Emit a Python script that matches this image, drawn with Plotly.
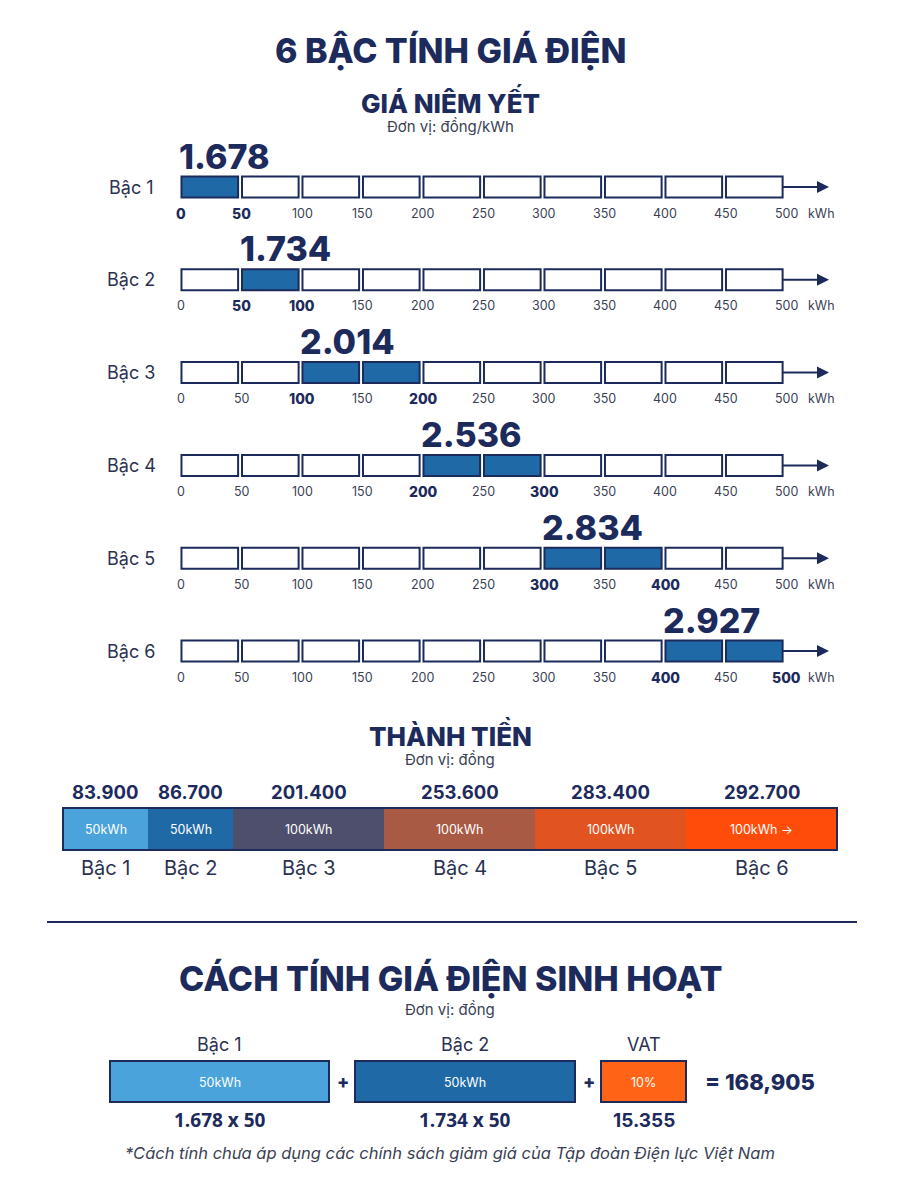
import plotly.graph_objects as go

# ---------------- data ----------------
tiers = ["Bậc 1", "Bậc 2", "Bậc 3", "Bậc 4", "Bậc 5", "Bậc 6"]
prices = [1678, 1734, 2014, 2536, 2834, 2927]          # đồng/kWh
tier_from = [0, 50, 100, 200, 300, 400]                 # kWh
tier_to = [50, 100, 200, 300, 400, 500]                 # kWh
kwh_ticks = [0, 50, 100, 150, 200, 250, 300, 350, 400, 450, 500]
amounts = [83900, 86700, 201400, 253600, 283400, 292700]  # đồng
seg_kwh = [50, 50, 100, 100, 100, 100]
seg_labels = ["50kWh", "50kWh", "100kWh", "100kWh", "100kWh", "100kWh →"]
example_tiers = ["Bậc 1", "Bậc 2"]
example_kwh = [50, 50]
example_prices = [1678, 1734]
vat_rate = 10
vat_amount = 15355
total = 168905

# ---------------- style ----------------
NAVY = "#1c2a5c"
TEXT = "#2b3150"
FILL = "#1f6aa6"
seg_colors = ["#4aa3da", "#1f6aa6", "#4e4f6c", "#a85a44", "#e1531f", "#ff4c0a"]
ex_colors = ["#4aa3da", "#1f6aa6"]
VAT_COLOR = "#ff6316"
FONT = "Inter"
W, H = 900, 1203
KMIN, KMAX = -10, 540
PX0, PXPER = 181, 605 / 500


def vn(n):
    return f"{n:,}".replace(",", ".")


fig = go.Figure()
shapes = []
ann = []


def text(x, y, s, size, color=TEXT, weight=400, xref="x", xanchor="center", italic=False,
         family=FONT, xshift=0):
    ann.append(dict(x=x, y=y, xref=xref, yref="y", text=s, showarrow=False,
                    xanchor=xanchor, yanchor="middle", xshift=xshift,
                    font=dict(family=family, size=size, color=color, weight=weight,
                              style="italic" if italic else "normal")))


# ---------------- headings ----------------
text(450, 50, "6 BẬC TÍNH GIÁ ĐIỆN", 34, NAVY, 800)
text(450, 101, "GIÁ NIÊM YẾT", 26, NAVY, 800)
text(450, 126, "Đơn vị: đồng/kWh", 15, "#3a3f55")

# ---------------- tier rows ----------------
row0, row_step = 187, 92.8
box_w = 47.2  # kWh width of each drawn box (gap between boxes)
for i, name in enumerate(tiers):
    yc = row0 + i * row_step
    text(131, yc, name, 18, TEXT)
    for k in kwh_ticks[:-1]:
        filled = tier_from[i] <= k < tier_to[i]
        shapes.append(dict(type="rect", xref="x2", yref="y",
                           x0=k + 0.4, x1=k + box_w, y0=yc - 10.5, y1=yc + 10.5,
                           fillcolor=FILL if filled else "white",
                           line=dict(color=NAVY, width=2)))
    # arrow
    shapes.append(dict(type="line", xref="x", yref="y", x0=783, x1=819, y0=yc, y1=yc,
                       line=dict(color=NAVY, width=2)))
    shapes.append(dict(type="path", xref="x", yref="y",
                       path=f"M 817 {yc-6} L 829 {yc} L 817 {yc+6} Z",
                       fillcolor=NAVY, line=dict(color=NAVY, width=0)))
    # tick labels
    for k in kwh_ticks:
        bold = k in (tier_from[i], tier_to[i])
        text(k, yc + 26, str(k), 14 if bold else 12.5, NAVY if bold else "#3a3f55",
             800 if bold else 400, xref="x2")
    text(821, yc + 26, "kWh", 12.5, "#3a3f55")
    # price label
    text(tier_from[i], yc - 31, vn(prices[i]), 34, NAVY, 800, xref="x2", xanchor="left",
         xshift=-4)

# ---------------- thành tiền ----------------
text(450, 734, "THÀNH TIỀN", 26, NAVY, 800)
text(450, 759, "Đơn vị: đồng", 15, "#3a3f55")
x = 63
bar_top, bar_bot = 808, 850
for i, k in enumerate(seg_kwh):
    w = 19 + 1.32 * k
    shapes.append(dict(type="rect", xref="x", yref="y", x0=x, x1=x + w, y0=bar_top, y1=bar_bot,
                       fillcolor=seg_colors[i], line=dict(width=0)))
    cx = x + w / 2
    text(cx, 829, seg_labels[i], 12.5, "white")
    text(cx, 792, vn(amounts[i]), 18.5, NAVY, 700)
    text(cx, 868, tiers[i], 20, TEXT)
    x += w
shapes.append(dict(type="rect", xref="x", yref="y", x0=63, x1=x, y0=bar_top, y1=bar_bot,
                   fillcolor="rgba(0,0,0,0)", line=dict(color=NAVY, width=2)))

# separator
shapes.append(dict(type="line", xref="x", yref="y", x0=47, x1=857, y0=922, y1=922,
                   line=dict(color=NAVY, width=2)))

# ---------------- cách tính ----------------
text(450, 978, "CÁCH TÍNH GIÁ ĐIỆN SINH HOẠT", 34, NAVY, 800)
text(450, 1009, "Đơn vị: đồng", 15, "#3a3f55")
box_top, box_bot = 1061, 1102
ex_x = [(110, 329), (355, 575)]
for i in range(len(example_tiers)):
    x0, x1 = ex_x[i]
    shapes.append(dict(type="rect", xref="x", yref="y", x0=x0, x1=x1, y0=box_top, y1=box_bot,
                       fillcolor=ex_colors[i], line=dict(color=NAVY, width=2)))
    cx = (x0 + x1) / 2
    text(cx, 1044, example_tiers[i], 18, TEXT)
    text(cx, 1082, f"{example_kwh[i]}kWh", 12.5, "white")
    text(cx, 1120, f"{vn(example_prices[i])} x {example_kwh[i]}", 19, NAVY, 700,
         family="Open Sans")
    text(x1 + 13.5, 1081, "+", 18, NAVY, 800)
shapes.append(dict(type="rect", xref="x", yref="y", x0=601, x1=686, y0=box_top, y1=box_bot,
                   fillcolor=VAT_COLOR, line=dict(color=NAVY, width=2)))
text(643.5, 1044, "VAT", 18, TEXT)
text(643.5, 1082, f"{vat_rate}%", 12.5, "white")
text(643.5, 1120, vn(vat_amount), 19, NAVY, 700)
text(703, 1082, f"= {total:,}", 22, NAVY, 800, xanchor="left")

text(450, 1153, "*Cách tính chưa áp dụng các chính sách giảm giá của Tập đoàn Điện lực Việt Nam",
     16.5, "#3a3f55", italic=True)

# ---------------- layout ----------------
fig.add_trace(go.Scatter(x=[0], y=[0], xaxis="x", yaxis="y", mode="markers",
                         marker=dict(opacity=0), hoverinfo="skip", showlegend=False))
fig.add_trace(go.Scatter(x=[0], y=[0], xaxis="x2", yaxis="y", mode="markers",
                         marker=dict(opacity=0), hoverinfo="skip", showlegend=False))
fig.update_layout(
    width=W, height=H, margin=dict(l=0, r=0, t=0, b=0),
    paper_bgcolor="white", plot_bgcolor="white",
    xaxis=dict(range=[0, W], domain=[0, 1], visible=False, fixedrange=True, anchor="y"),
    xaxis2=dict(range=[KMIN, KMAX],
                domain=[(PX0 + KMIN * PXPER) / W, (PX0 + KMAX * PXPER) / W],
                visible=False, anchor="y", fixedrange=True),
    yaxis=dict(range=[H, 0], domain=[0, 1], visible=False, fixedrange=True, anchor="x"),
    shapes=shapes, annotations=ann, showlegend=False,
)
fig.write_html("out.html", config={"displayModeBar": False},
               post_script="document.body.style.margin='0';")
